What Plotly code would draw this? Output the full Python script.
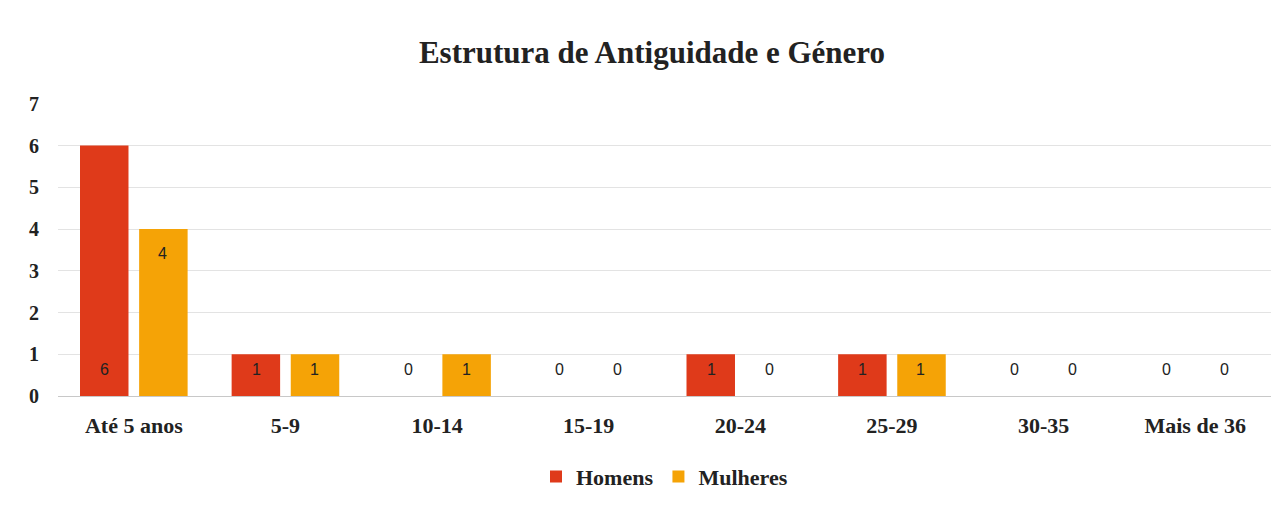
import plotly.graph_objects as go

categories = ["Até 5 anos", "5-9", "10-14", "15-19", "20-24", "25-29", "30-35", "Mais de 36"]
homens = [6, 1, 0, 0, 1, 1, 0, 0]
mulheres = [4, 1, 1, 0, 0, 1, 0, 0]
y_ticks = [0, 1, 2, 3, 4, 5, 6, 7]

RED = "#DF3A1A"
ORANGE = "#F5A306"
SERIF = "Liberation Serif, Times New Roman, serif"
SANS = "Liberation Sans, Arial, sans-serif"

fig = go.Figure()
fig.add_bar(x=categories, y=homens, name="Homens", marker=dict(color=RED, line=dict(width=0)))
fig.add_bar(x=categories, y=mulheres, name="Mulheres", marker=dict(color=ORANGE, line=dict(width=0)))

# data labels
annotations = []
for i, c in enumerate(categories):
    for vals, shift in ((homens, -29), (mulheres, 29)):
        v = vals[i]
        if v > 1 and vals is mulheres:
            annotations.append(dict(x=c, y=v, yanchor="top", yshift=-14, xshift=shift,
                                    text=str(v), showarrow=False,
                                    font=dict(family=SANS, size=16, color="#222")))
        else:
            annotations.append(dict(x=c, y=0, yanchor="bottom", yshift=16, xshift=shift,
                                    text=str(v), showarrow=False,
                                    font=dict(family=SANS, size=16, color="#222")))

fig.update_layout(
    width=1288, height=508,
    paper_bgcolor="white", plot_bgcolor="white",
    margin=dict(l=50, r=25, t=95, b=120),
    title=dict(text="Estrutura de Antiguidade e Género", x=0.5, xanchor="center",
               y=0.913, yanchor="middle",
               font=dict(family=SERIF, size=31, color="#222", weight="bold")),
    barmode="group", bargap=0.22, bargroupgap=0.18,
    showlegend=True,
    legend=dict(orientation="h", x=0.5, xanchor="center", y=-0.275, yanchor="middle",
                font=dict(family=SERIF, size=22, color="#222", weight="bold"), itemwidth=30,
                traceorder="normal"),
    annotations=annotations,
    xaxis=dict(showgrid=False, showline=True, linecolor="#c8c8c8", linewidth=1,
               automargin=False,
               tickfont=dict(family=SERIF, size=22, color="#222", weight="bold"),
               ticklabelstandoff=10),
    yaxis=dict(range=[0, 7.02], tickvals=y_ticks, showgrid=True, gridcolor="#e3e3e3",
               zeroline=False, automargin=False,
               tickfont=dict(family=SERIF, size=20, color="#222", weight="bold"),
               ticklabelstandoff=18),
)

fig.write_html("out.html")
